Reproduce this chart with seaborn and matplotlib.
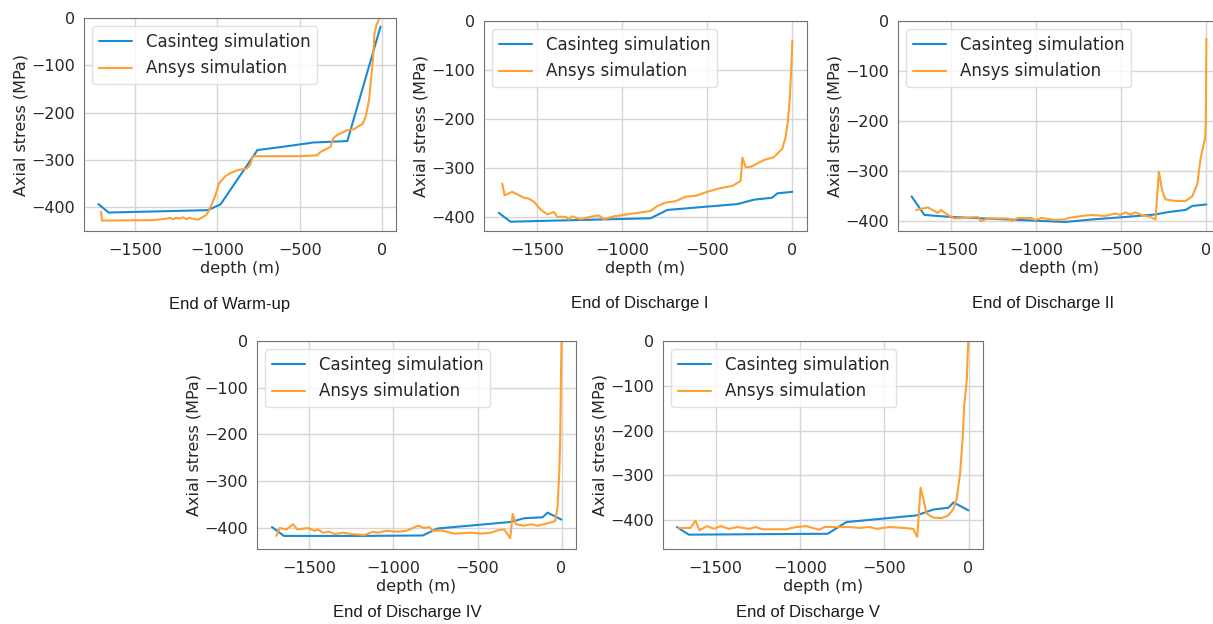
import matplotlib
matplotlib.use("Agg")
import matplotlib.pyplot as plt
import seaborn as sns
import pandas as pd

# ---------------- data ----------------
series_names = ["Casinteg simulation", "Ansys simulation"]
panel_titles = ["End of Warm-up", "End of Discharge I", "End of Discharge II",
                "End of Discharge IV", "End of Discharge V"]

# End of Warm-up
warmup_cas_depth = [-1725, -1662, -1060, -982, -757, -600, -416, -210, -8]
warmup_cas_stress = [-393, -411, -406, -394, -279, -272, -263, -260, -18]
warmup_ans_depth = [-1708, -1703, -1393, -1311, -1290, -1270, -1250, -1230, -1210, -1190,
                    -1170, -1150, -1118, -1067, -1051, -1016, -990, -955, -924, -873,
                    -822, -802, -785, -496, -394, -373, -312, -296, -271, -210,
                    -169, -149, -118, -98, -78, -55, -45, -34, -14, -2]
warmup_ans_stress = [-409, -428, -427, -424, -422, -425, -422, -424, -421, -425,
                     -422, -424, -426, -416, -406, -378, -349, -335, -328, -321,
                     -318, -311, -292, -292, -290, -283, -272, -254, -247, -237,
                     -235, -230, -224, -208, -173, -90, -34, -16, 0, 8]

# End of Discharge I
d1_cas_depth = [-1725, -1656, -833, -735, -323, -225, -118, -88, 0]
d1_cas_stress = [-392, -410, -403, -386, -374, -365, -361, -352, -349]
d1_ans_depth = [-1705, -1691, -1646, -1578, -1548, -1519, -1480, -1440, -1401, -1382,
                -1333, -1313, -1294, -1245, -1186, -1137, -1107, -1049, -970, -911,
                -833, -794, -745, -686, -627, -568, -500, -431, -353, -304,
                -294, -274, -245, -167, -108, -59, -39, -26, -16, -6, 0]
d1_ans_stress = [-332, -356, -349, -361, -363, -369, -385, -395, -390, -400,
                 -400, -405, -399, -405, -400, -397, -405, -399, -395, -392,
                 -388, -378, -371, -368, -359, -357, -349, -342, -337, -327,
                 -279, -299, -298, -284, -278, -261, -236, -203, -162, -94, -40]

# End of Discharge II
d2_cas_depth = [-1732, -1657, -1500, -1165, -830, -673, -476, -299, -220, -122, -83, 0]
d2_cas_stress = [-350, -387, -391, -396, -401, -396, -391, -386, -381, -377, -369, -366]
d2_ans_depth = [-1706, -1637, -1598, -1578, -1559, -1519, -1480, -1421, -1342, -1326,
                -1283, -1165, -1145, -1106, -1027, -1008, -968, -890, -830, -811,
                -732, -673, -594, -535, -506, -476, -447, -417, -378, -329,
                -299, -279, -260, -240, -181, -122, -83, -53, -33, -8, -3, 0]
d2_ans_stress = [-377, -372, -379, -383, -377, -387, -394, -393, -391, -399,
                 -394, -394, -399, -393, -393, -397, -393, -397, -396, -393,
                 -389, -387, -389, -384, -387, -382, -386, -382, -387, -391,
                 -396, -301, -338, -356, -359, -359, -350, -325, -272, -235, -200, -35]

# End of Discharge IV
d4_cas_depth = [-1723, -1651, -1212, -826, -737, -301, -222, -113, -83, -34, 0]
d4_cas_stress = [-399, -418, -418, -417, -402, -388, -380, -378, -368, -377, -383]
d4_ans_depth = [-1697, -1677, -1637, -1598, -1572, -1509, -1469, -1449, -1420, -1380,
                -1350, -1301, -1251, -1172, -1123, -1093, -1043, -974, -925, -885,
                -855, -816, -786, -766, -717, -638, -539, -479, -420, -380,
                -341, -305, -291, -271, -222, -182, -143, -83, -38, -24, -14, -8, -4, 0]
d4_ans_stress = [-418, -401, -404, -393, -404, -401, -407, -404, -411, -409,
                 -414, -411, -414, -416, -409, -411, -407, -409, -407, -401,
                 -396, -401, -399, -407, -406, -413, -411, -413, -411, -406,
                 -404, -423, -371, -393, -396, -393, -396, -391, -386, -357, -285, -213, -90, 5]

# End of Discharge V
d5_cas_depth = [-1729, -1659, -835, -725, -308, -209, -119, -89, 0]
d5_cas_stress = [-415, -432, -430, -404, -389, -376, -372, -360, -378]
d5_ans_depth = [-1719, -1649, -1619, -1596, -1550, -1510, -1470, -1421, -1371, -1301,
                -1262, -1222, -1083, -1023, -964, -884, -854, -785, -705, -646,
                -586, -546, -467, -387, -328, -304, -284, -248, -209, -159,
                -119, -89, -70, -50, -34, -26, -10, -4, 0]
d5_ans_stress = [-417, -417, -401, -422, -413, -419, -413, -419, -415, -419,
                 -415, -420, -420, -415, -413, -421, -415, -415, -415, -417,
                 -415, -419, -415, -417, -419, -437, -327, -385, -394, -395,
                 -389, -374, -351, -296, -213, -146, -87, -20, 10]

panels = [
    (warmup_cas_depth, warmup_cas_stress, warmup_ans_depth, warmup_ans_stress),
    (d1_cas_depth, d1_cas_stress, d1_ans_depth, d1_ans_stress),
    (d2_cas_depth, d2_cas_stress, d2_ans_depth, d2_ans_stress),
    (d4_cas_depth, d4_cas_stress, d4_ans_depth, d4_ans_stress),
    (d5_cas_depth, d5_cas_stress, d5_ans_depth, d5_ans_stress),
]
y_bottoms = [-450, -429, -419, -446, -464]
x_ticks = [-1500, -1000, -500, 0]
y_ticks = [0, -100, -200, -300, -400]

# ---------------- style ----------------
sns.set_style("whitegrid", {"axes.edgecolor": "0.45", "grid.color": "0.84",
                            "axes.linewidth": 1.0})
plt.rcParams["font.family"] = ["DejaVu Sans"]
palette = {series_names[0]: "#1a8ad4", series_names[1]: "#ffa033"}

W, H = 1213, 624
fig = plt.figure(figsize=(W / 100, H / 100), dpi=100)

# axes boxes in pixels: left, top, right, bottom
boxes = [(84, 18, 396, 231), (484, 21, 807, 231), (898, 21, 1221, 231),
         (257, 341, 576, 549), (663, 341, 983, 549)]
title_pos = [(230, 304), (640, 303), (1043, 303), (407, 613), (808, 613)]

for i, (cd, cs, ad, a_s) in enumerate(panels):
    l, t, r, b = boxes[i]
    ax = fig.add_axes([l / W, 1 - b / H, (r - l) / W, (b - t) / H])
    df = pd.concat([
        pd.DataFrame({"depth": cd, "stress": cs, "series": series_names[0]}),
        pd.DataFrame({"depth": ad, "stress": a_s, "series": series_names[1]}),
    ], ignore_index=True)
    sns.lineplot(data=df, x="depth", y="stress", hue="series", palette=palette,
                 estimator=None, sort=False, linewidth=1.5, ax=ax)
    ax.set_xlim(-1812, 86)
    ax.set_ylim(y_bottoms[i], 0)
    ax.set_xticks(x_ticks)
    ax.set_yticks(y_ticks)
    ax.tick_params(axis="x", labelsize=11.5, pad=5)
    ax.tick_params(axis="y", labelsize=11.5, pad=3)
    ax.set_xlabel("depth (m)", fontsize=11.5, labelpad=2)
    ax.set_ylabel("Axial stress (MPa)", fontsize=11.5, labelpad=2)
    ax.grid(True, linewidth=1.0)
    leg = ax.legend(loc="upper left", fontsize=12, frameon=True, handlelength=2.0)
    leg.get_frame().set_edgecolor("0.85")
    leg.set_title(None)
    fx, fy = title_pos[i]
    fig.text(fx / W, 1 - fy / H, panel_titles[i], ha="center", va="center",
             fontsize=12, family=["Liberation Sans", "DejaVu Sans"], color="0.1")

fig.savefig("out.png", dpi=100)
